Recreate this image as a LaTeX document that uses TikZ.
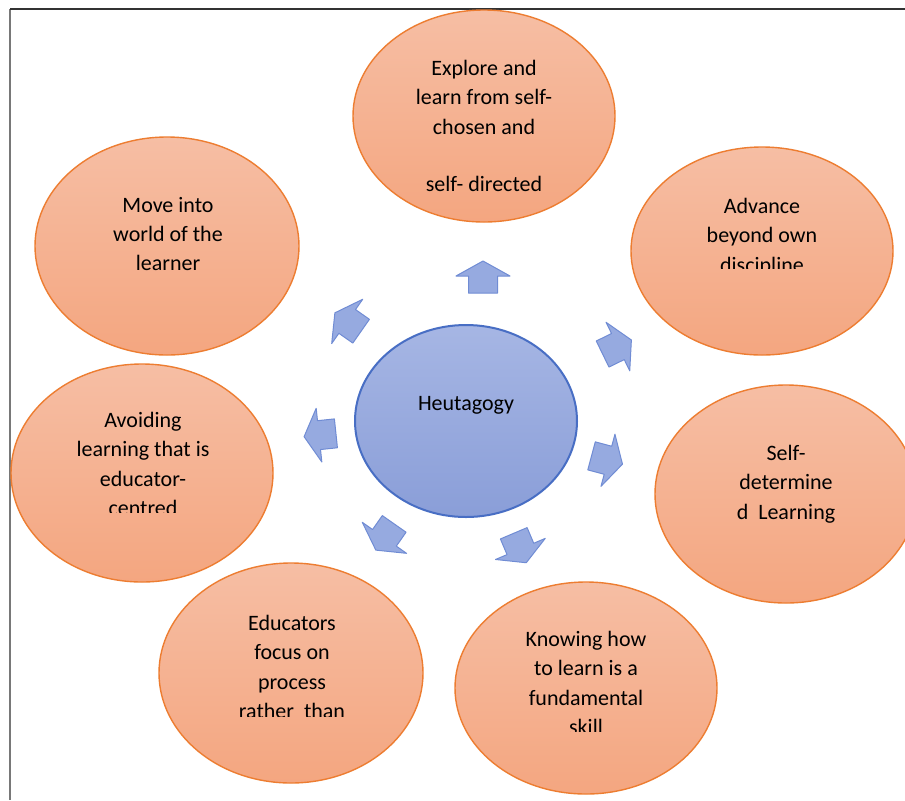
\documentclass[tikz,border=0pt]{standalone}
\usepackage{fontspec}
\setmainfont{Carlito}
\usetikzlibrary{shapes.geometric}

\definecolor{petaltop}{RGB}{246,190,164}
\definecolor{petalbot}{RGB}{244,166,128}
\definecolor{petaledge}{RGB}{237,125,49}
\definecolor{hubtop}{RGB}{166,182,228}
\definecolor{hubbot}{RGB}{138,158,216}
\definecolor{hubedge}{RGB}{72,110,196}
\definecolor{arrowfill}{RGB}{150,170,224}
\definecolor{arrowedge}{RGB}{112,140,212}
\definecolor{framedark}{RGB}{50,50,50}
\definecolor{framegray}{RGB}{120,120,120}

\begin{document}
\begin{tikzpicture}[x=0.5pt,y=-0.5pt,
  petal/.style={ellipse, draw=petaledge, line width=0.7pt,
    top color=petaltop, bottom color=petalbot, inner sep=0pt},
  hubshape/.style={ellipse, draw=hubedge, line width=1pt,
    top color=hubtop, bottom color=hubbot, inner sep=0pt},
  caption/.style={font=\fontsize{11}{14.6}\selectfont, align=center,
    text=black, inner sep=0pt},
  blockarrow/.style={fill=arrowfill, draw=arrowedge, line width=0.5pt,
    line join=round}
]
\useasboundingbox (0,0) rectangle (905,800);
\fill[white] (0,0) rectangle (905,800);

% frame lines along the left and top
\draw[framegray, line width=1.2pt] (10,800) -- (10,9);
\draw[framedark, line width=1pt] (10,9) -- (905,9);

% outer ellipses
\node[petal, minimum width=131pt, minimum height=106pt] (explore) at (484,116) {};
\node[petal, minimum width=131pt, minimum height=104pt] (advance) at (762,251) {};
\node[petal, minimum width=131pt, minimum height=109pt] (selfdet) at (786,494) {};
\node[petal, minimum width=131pt, minimum height=106pt] (knowing) at (586,688) {};
\node[petal, minimum width=132pt, minimum height=110pt] (educators) at (291,673) {};
\node[petal, minimum width=131pt, minimum height=109pt] (avoiding) at (142,473) {};
\node[petal, minimum width=132pt, minimum height=109pt] (moveinto) at (167,246) {};

% central ellipse
\node[hubshape, minimum width=111pt, minimum height=96pt] (hub) at (466,421) {};
\node[caption] (hubtext) at (466,405) {Heutagogy};

% block arrows pointing outwards from the hub
\newcommand\arrowoutline{(-16,-14.5) -- (1,-14.5) -- (1,-27) -- (16,0) -- (1,27) -- (1,14.5) -- (-16,14.5) -- cycle}
\path[blockarrow, shift={(483,277)}, rotate=90]    \arrowoutline;
\path[blockarrow, shift={(617,347)}, rotate=26]    \arrowoutline;
\path[blockarrow, shift={(607,460)}, rotate=-15]   \arrowoutline;
\path[blockarrow, shift={(520,548)}, rotate=-67]   \arrowoutline;
\path[blockarrow, shift={(385,537)}, rotate=-125]  \arrowoutline;
\path[blockarrow, shift={(320,435)}, rotate=186]   \arrowoutline;
\path[blockarrow, shift={(348,322)}, rotate=145]   \arrowoutline;

% captions of the outer ellipses (long ones are cut off by their text boxes)
\node[caption, anchor=north] (t-explore) at (484,60)
  {Explore and\\learn from self-\\chosen and\\[14.3pt]self- directed};
\node[caption, anchor=north] (t-move) at (168,197)
  {Move into\\world of the\\learner};
\begin{scope}
  \clip (600,150) rectangle (900,268);
  \node[caption, anchor=north] (t-advance) at (762,198)
    {Advance\\beyond own\\discipline};
\end{scope}
\begin{scope}
  \clip (20,380) rectangle (270,512);
  \node[caption, anchor=north] (t-avoid) at (143,412)
    {Avoiding\\learning that is\\educator-\\centred};
\end{scope}
\node[caption, anchor=north] (t-self) at (786,445)
  {Self-\\determine\\d~~Learning};
\begin{scope}
  \clip (170,580) rectangle (420,716);
  \node[caption, anchor=north] (t-educ) at (292,615)
    {Educators\\focus on\\process\\rather~~than};
\end{scope}
\begin{scope}
  \clip (460,600) rectangle (710,731);
  \node[caption, anchor=north] (t-know) at (586,631)
    {Knowing how\\to learn is a\\fundamental\\skill};
\end{scope}
\end{tikzpicture}
\end{document}
